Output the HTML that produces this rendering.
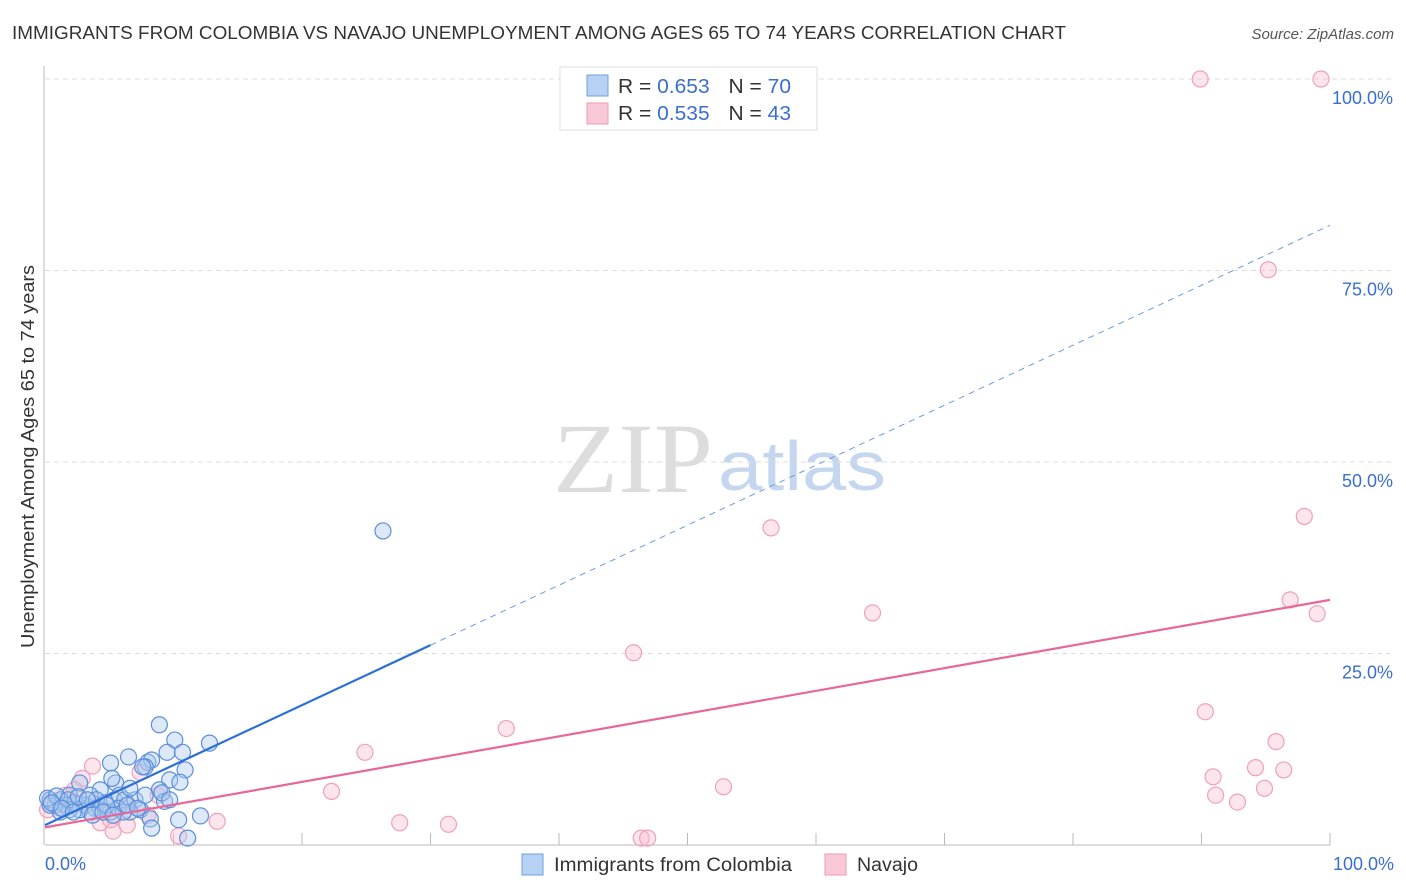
<!DOCTYPE html>
<html><head><meta charset="utf-8"><style>
body{margin:0;background:#fff;font-family:"Liberation Sans",sans-serif;}
#wrap{position:relative;width:1406px;height:892px;overflow:hidden;}
</style></head><body><div id="wrap">
<svg id="svg" width="1406" height="892" xmlns="http://www.w3.org/2000/svg">
<text x="12" y="39" font-size="18" fill="#333" textLength="1054" lengthAdjust="spacingAndGlyphs">IMMIGRANTS FROM COLOMBIA VS NAVAJO UNEMPLOYMENT AMONG AGES 65 TO 74 YEARS CORRELATION CHART</text>
<text x="1394" y="39" font-size="15" fill="#555" font-style="italic" text-anchor="end">Source: ZipAtlas.com</text>
<text transform="translate(34,648) rotate(-90)" font-size="18" fill="#333" textLength="383" lengthAdjust="spacingAndGlyphs">Unemployment Among Ages 65 to 74 years</text>
<text x="553" y="492" font-size="100" fill="#ddd" font-family="Liberation Serif,serif" textLength="160" lengthAdjust="spacingAndGlyphs">ZIP</text>
<text x="718" y="490" font-size="70" fill="#c5d7ef" textLength="168" lengthAdjust="spacingAndGlyphs">atlas</text>
<g id="grid"></g><g id="marks"></g>
<g>
<rect x="560" y="67" width="257" height="63" fill="#fff" stroke="#ddd"/>
<rect x="587" y="75" width="21" height="21" fill="#b7d1f5" stroke="#6fa0e0"/>
<rect x="587" y="103" width="21" height="21" fill="#f9c9d7" stroke="#ee9ab3"/>
<text x="618" y="93" font-size="20" fill="#333" textLength="173" lengthAdjust="spacingAndGlyphs">R = <tspan fill="#3a6fd0">0.653</tspan><tspan dx="18">N = </tspan><tspan fill="#3a6fd0">70</tspan></text>
<text x="618" y="120" font-size="20" fill="#333" textLength="173" lengthAdjust="spacingAndGlyphs">R = <tspan fill="#3a6fd0">0.535</tspan><tspan dx="18">N = </tspan><tspan fill="#3a6fd0">43</tspan></text>
</g>
<g>
<rect x="522" y="854" width="21" height="21" fill="#b7d1f5" stroke="#6fa0e0"/>
<text x="554" y="871" font-size="19" fill="#333" textLength="238" lengthAdjust="spacingAndGlyphs">Immigrants from Colombia</text>
<rect x="825" y="854" width="21" height="21" fill="#f9c9d7" stroke="#ee9ab3"/>
<text x="857" y="871" font-size="19" fill="#333" textLength="61" lengthAdjust="spacingAndGlyphs">Navajo</text>
</g>
</svg></div>
<script>
const yTicks=[25,50,75,100];
const yTickLabels=["25.0%","50.0%","75.0%","100.0%"];
const xTickLabels=["0.0%","100.0%"];
const blueX=[8.9,5.1,6.5,8.0,8.3,10.1,9.5,10.7,12.8,10.9,7.8,9.7,10.5,8.9,5.5,2.7,4.3,3.5,1.9,1.2,0.4,0.8,1.6,2.3,3.1,3.9,4.7,5.4,5.8,6.2,7.0,7.4,6.6,5.1,4.3,3.5,2.7,1.9,1.2,0.4,0.2,0.9,5.7,6.1,9.3,8.2,8.3,10.4,12.1,11.1,26.3,7.6,6.6,5.2,9.1,9.7,1.8,2.6,4.0,4.8,3.3,0.5,1.3,2.2,3.7,4.5,5.3,6.4,7.2,7.8];
const blueY=[15.7,10.7,11.5,10.8,11.1,13.7,12.1,12.1,13.3,9.8,10.2,8.5,8.2,7.2,8.1,8.1,7.2,6.5,6.5,5.9,5.9,5.2,5.2,5.5,5.2,4.8,5.5,5.9,6.5,5.9,5.9,4.6,4.3,4.3,4.6,4.3,4.6,4.6,4.3,5.2,6.1,6.4,4.8,4.3,5.7,3.4,2.2,3.3,3.8,0.9,41.0,10.2,7.4,8.7,6.8,5.9,5.9,6.3,5.9,5.2,5.9,5.5,4.8,4.3,3.9,4.3,3.9,5.2,4.8,6.5];
const pinkX=[89.9,99.3,95.2,98.0,96.9,99.0,56.5,64.4,45.8,35.9,24.9,22.3,52.8,90.3,95.8,90.9,94.2,96.4,91.1,92.8,94.9,27.6,31.4,46.4,46.9,13.4,10.4,5.3,6.4,4.3,3.7,2.9,7.4,8.8,8.0,2.3,1.2,0.4,0.2,5.1,6.5,3.3,1.6];
const pinkY=[100,100,75.1,42.9,32.0,30.2,41.4,30.3,25.1,15.2,12.1,7.0,7.6,17.4,13.5,8.9,10.1,9.8,6.5,5.6,7.4,2.9,2.7,0.9,0.9,3.1,1.2,1.8,2.6,2.9,10.3,8.7,9.5,6.5,3.9,7.2,4.8,5.9,4.6,3.3,5.2,5.9,6.5];
const blueTrend=[2.6,80.9], blueSolidEnd=30;
const pinkTrend=[2.3,32.0];
const NS="http://www.w3.org/2000/svg";
const xs=v=>45+v*12.85, ys=v=>845-v*7.66;
function mk(p,tag,at){const e=document.createElementNS(NS,tag);for(const k in at)e.setAttribute(k,at[k]);p.appendChild(e);return e;}
const grid=document.getElementById('grid'), marks=document.getElementById('marks');
yTicks.forEach((t,i)=>{
 const l=mk(grid,'line',{x1:45,x2:1392,y1:ys(t),y2:ys(t),stroke:'#ddd','stroke-dasharray':'5,4'});
 
 
 const tx=mk(grid,'text',{x:1393,y:ys(t)+25,'font-size':18,fill:'#3a6fd0','text-anchor':'end'});tx.textContent=yTickLabels[i];
 
 
});
const ax=mk(grid,'line',{x1:45,x2:1330,y1:845,y2:845,stroke:'#bbb'});


const ay=mk(grid,'line',{x1:44,x2:44,y1:66,y2:845,stroke:'#bbb'});


for(let i=1;i<=10;i++){const t=mk(grid,'line',{x1:xs(i*10),x2:xs(i*10),y1:833,y2:845,stroke:'#bbb'});
 
 }
[[0,'start',45],[100,'end',1394]].forEach((d,i)=>{const t=mk(grid,'text',{x:d[2],y:870,'font-size':18,fill:'#3a6fd0','text-anchor':d[1]});t.textContent=xTickLabels[i];
 
 });
pinkX.forEach((x,i)=>{const c=mk(marks,'circle',{cx:xs(x),cy:ys(pinkY[i]),r:8,fill:'rgba(249,190,210,0.4)',stroke:'#f0a0b8','stroke-width':1.2});
 
 });
blueX.forEach((x,i)=>{const c=mk(marks,'circle',{cx:xs(x),cy:ys(blueY[i]),r:8,fill:'rgba(170,200,240,0.4)',stroke:'#5b8fd8','stroke-width':1.2});
 
 });
const bf=v=>blueTrend[0]+(blueTrend[1]-blueTrend[0])*v/100, pf=v=>pinkTrend[0]+(pinkTrend[1]-pinkTrend[0])*v/100;
const l1=mk(marks,'line',{x1:xs(0),y1:ys(bf(0)),x2:xs(blueSolidEnd),y2:ys(bf(blueSolidEnd)),stroke:'#2a6fd6','stroke-width':2.2});


const l2=mk(marks,'line',{x1:xs(blueSolidEnd),y1:ys(bf(blueSolidEnd)),x2:xs(100),y2:ys(bf(100)),stroke:'#6a9be0','stroke-width':1,'stroke-dasharray':'6,5'});


const l3=mk(marks,'line',{x1:xs(0),y1:ys(pf(0)),x2:xs(100),y2:ys(pf(100)),stroke:'#e8679a','stroke-width':2.2});


</script></body></html>
